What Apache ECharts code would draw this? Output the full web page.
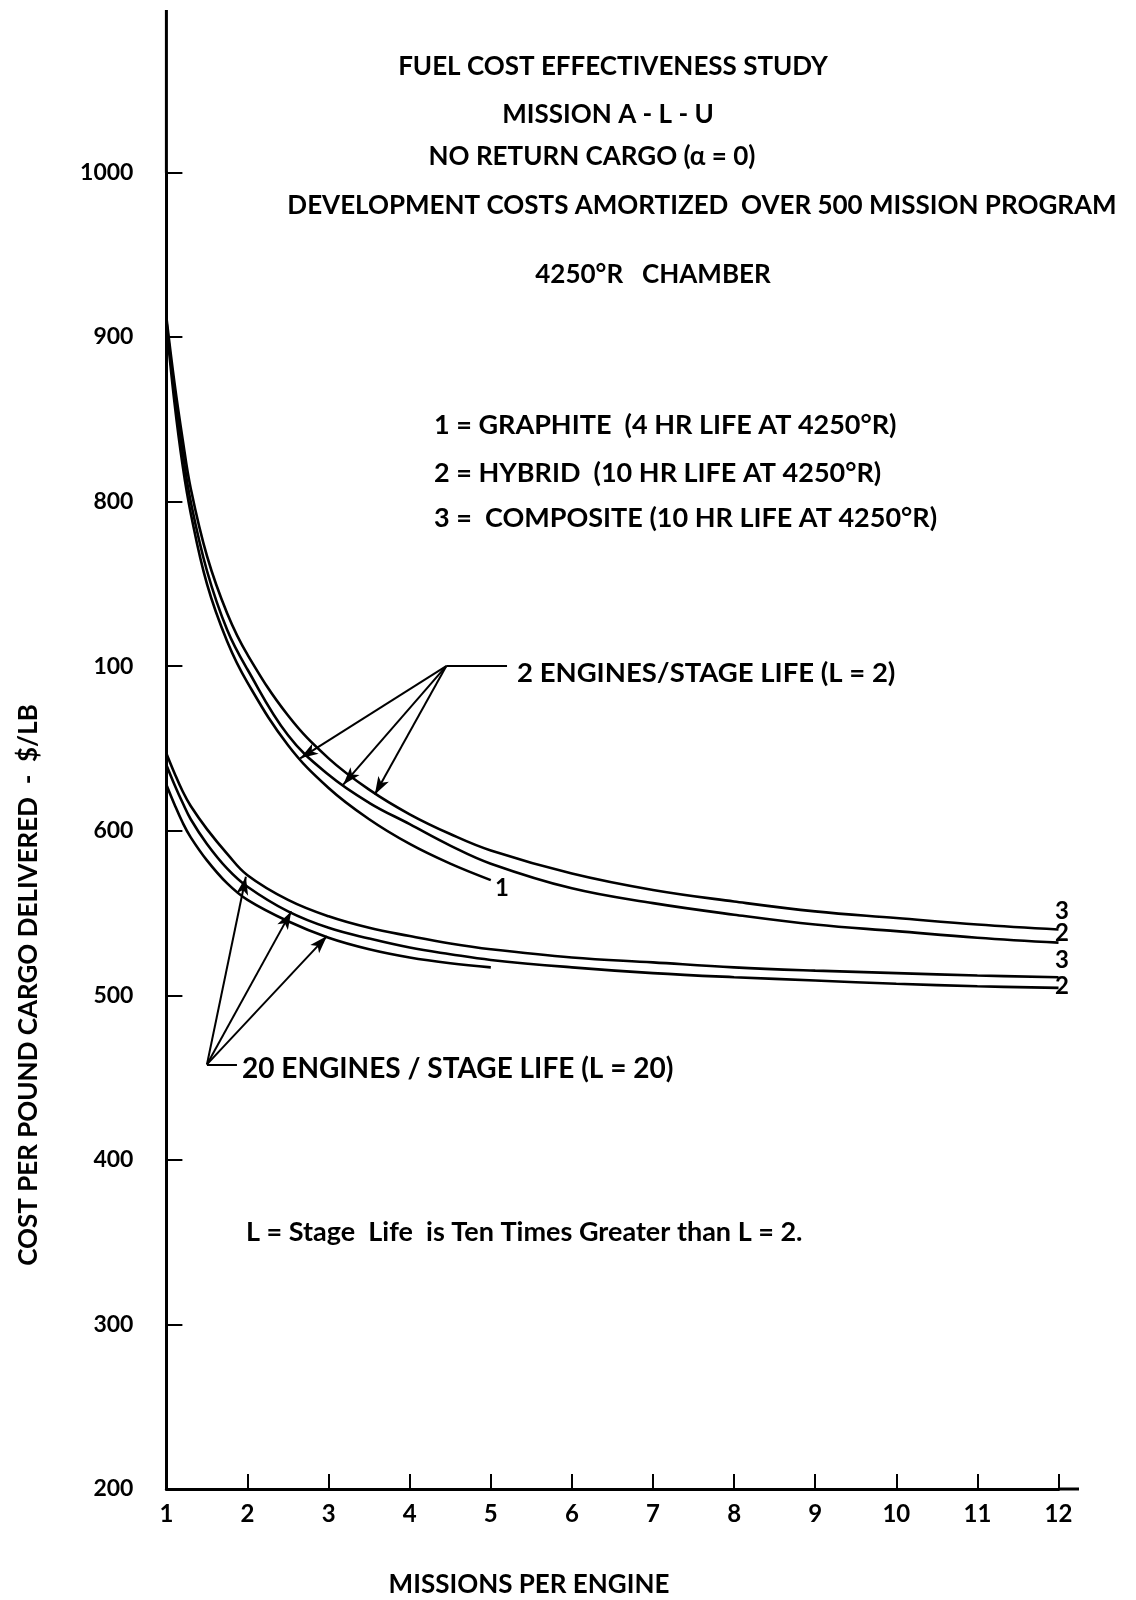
<!DOCTYPE html>
<html>
<head>
<meta charset="utf-8">
<script src="https://cdn.jsdelivr.net/npm/echarts@6/dist/echarts.min.js"></script>
<style>
html,body{margin:0;padding:0;background:#fff;}
#chart{width:1136px;height:1600px;}
</style>
</head>
<body>
<div id="chart"></div>
<script>
// ---- data ----
const missionsShort = [1, 1.1, 1.2, 1.3, 1.5, 1.75, 2, 2.5, 3, 3.5, 4, 4.5, 5];
const missionsLong  = [1, 1.1, 1.2, 1.3, 1.5, 1.75, 2, 2.5, 3, 3.5, 4, 4.5, 5, 6, 7, 8, 9, 10, 11, 12];

const graphiteL2  = [908, 860, 822, 793, 750, 715, 690, 652, 626, 607, 592, 580, 570];
const hybridL2    = [910, 866, 830, 800, 758, 722, 698, 658, 634, 617, 604, 591, 580, 565, 556, 549, 543, 539, 535, 532];
const compositeL2 = [912, 872, 838, 808, 767, 732, 707, 670, 644, 625, 610, 598, 588, 574, 564, 557, 551, 547, 543, 540];

const graphiteL20  = [628, 616, 605, 596, 582, 568, 558, 545, 535, 528, 523, 519.5, 517];
const hybridL20    = [640, 628, 617, 607, 592, 577, 566, 551, 541, 534.5, 529, 525, 521.5, 517, 513.5, 511, 509, 507, 505.5, 504.5];
const compositeL20 = [647, 635, 624, 615, 601, 586, 573, 558, 548, 541, 536, 531.5, 528, 523, 520, 517, 515, 513.5, 512, 511];

const yTickValues = [200, 300, 400, 500, 600, 700, 800, 900, 1000];
const yTickLabels = ['200', '300', '400', '500', '600', '100', '800', '900', '1000'];
const xTickLabels = ['1', '2', '3', '4', '5', '6', '7', '8', '9', '10', '11', '12'];

// annotation arrows (data coordinates)
const apexL2 = [4.45, 700], leaderL2End = [5.2, 700];
const arrowTipsL2 = [[2.65, 644], [3.18, 628], [3.57, 622]];
const apexL20 = [1.5, 458], leaderL20End = [1.87, 458];
const arrowTipsL20 = [[1.98, 572], [2.54, 551], [2.98, 536]];

// ---- chart ----
const FONT = 'Lato';
const FS = 26;
const chart = echarts.init(document.getElementById('chart'), null, {renderer: 'canvas'});

function pairs(xs, ys) { return ys.map((v, i) => [xs[i], v]); }
function curve(name, xs, ys) {
  return {
    name, type: 'line', data: pairs(xs, ys), smooth: 0.4,
    showSymbol: false, symbol: 'none', clip: false,
    lineStyle: {color: '#000', width: 2.6}, silent: true, animation: false
  };
}

const arrowLines = [];
arrowTipsL2.forEach(t => arrowLines.push([{coord: apexL2, symbol: 'none'}, {coord: t, symbol: 'arrow', symbolSize: [9, 18]}]));
arrowTipsL20.forEach(t => arrowLines.push([{coord: apexL20, symbol: 'none'}, {coord: t, symbol: 'arrow', symbolSize: [9, 18]}]));
arrowLines.push([{coord: apexL2, symbol: 'none'}, {coord: leaderL2End, symbol: 'none'}]);
arrowLines.push([{coord: apexL20, symbol: 'none'}, {coord: leaderL20End, symbol: 'none'}]);

const gridLeft = 166.4, gridTop = 172.5, gridBottomY = 1489, gridRightX = 1058.5;

function txt(text, x, y, align, size, rot) {
  return {
    type: 'text', silent: true, x, y, rotation: rot || 0,
    style: {text, x: 0, y: 0, textAlign: align || 'center', textVerticalAlign: 'middle',
            font: `bold ${size || FS}px ${FONT}`, fill: '#000'}
  };
}

chart.setOption({
  animation: false,
  backgroundColor: '#fff',
  grid: {left: gridLeft, top: gridTop, right: 1136 - gridRightX, bottom: 1600 - gridBottomY, containLabel: false},
  xAxis: {
    type: 'value', min: 1, max: 12, interval: 1,
    axisLine: {show: true, lineStyle: {color: '#000', width: 3}},
    axisTick: {show: true, inside: true, length: 15, lineStyle: {color: '#000', width: 2}},
    axisLabel: {margin: 13, color: '#000', fontFamily: FONT, fontWeight: 'bold', fontSize: 24,
                formatter: v => xTickLabels[v - 1] || ''},
    splitLine: {show: false}
  },
  yAxis: {
    type: 'value', min: 200, max: 1000, interval: 100,
    axisLine: {show: true, lineStyle: {color: '#000', width: 3}},
    axisTick: {show: true, inside: true, length: 16, lineStyle: {color: '#000', width: 2}},
    axisLabel: {margin: 33, color: '#000', fontFamily: FONT, fontWeight: 'bold', fontSize: 23,
                formatter: v => { const i = yTickValues.indexOf(v); return i >= 0 ? yTickLabels[i] : ''; }},
    splitLine: {show: false}
  },
  series: [
    curve('Graphite L=2', missionsShort, graphiteL2),
    curve('Hybrid L=2', missionsLong, hybridL2),
    curve('Composite L=2', missionsLong, compositeL2),
    curve('Graphite L=20', missionsShort, graphiteL20),
    curve('Hybrid L=20', missionsLong, hybridL20),
    curve('Composite L=20', missionsLong, compositeL20),
    {
      type: 'line', data: [], silent: true,
      markLine: {
        silent: true, animation: false, symbol: ['none', 'none'],
        label: {show: false},
        lineStyle: {color: '#000', width: 2, type: 'solid'},
        emphasis: {disabled: true},
        data: arrowLines
      }
    }
  ],
  graphic: [
    {type: 'line', silent: true, shape: {x1: gridLeft, y1: 10, x2: gridLeft, y2: gridTop}, style: {stroke: '#000', lineWidth: 3}},
    {type: 'line', silent: true, shape: {x1: gridRightX, y1: gridBottomY, x2: 1079, y2: gridBottomY}, style: {stroke: '#000', lineWidth: 3}},
    txt('FUEL COST EFFECTIVENESS STUDY', 613, 67),
    txt('MISSION A - L - U', 608, 115),
    txt('NO RETURN CARGO (α = 0)', 592, 157),
    txt('DEVELOPMENT COSTS AMORTIZED  OVER 500 MISSION PROGRAM', 702, 206),
    txt('4250°R   CHAMBER', 653, 275),
    txt('1 = GRAPHITE  (4 HR LIFE AT 4250°R)', 434, 425, 'left', 27),
    txt('2 = HYBRID  (10 HR LIFE AT 4250°R)', 434, 473, 'left', 27),
    txt('3 =  COMPOSITE (10 HR LIFE AT 4250°R)', 434, 518, 'left', 27),
    txt('2 ENGINES/STAGE LIFE (L = 2)', 517, 673, 'left', 27.5),
    txt('20 ENGINES / STAGE LIFE (L = 20)', 242, 1069, 'left', 28),
    txt('L = Stage  Life  is Ten Times Greater than L = 2.', 246, 1232, 'left', 27),
    txt('MISSIONS PER ENGINE', 529, 1585),
    txt('COST PER POUND CARGO DELIVERED  -  $/LB', 29, 985, 'center', 26, Math.PI / 2),
    txt('3', 1062, 911, 'center', 24),
    txt('2', 1062, 933, 'center', 24),
    txt('3', 1062, 960, 'center', 24),
    txt('2', 1062, 986, 'center', 24),
    txt('1', 502, 888, 'center', 24)
  ]
});
</script>
</body>
</html>
